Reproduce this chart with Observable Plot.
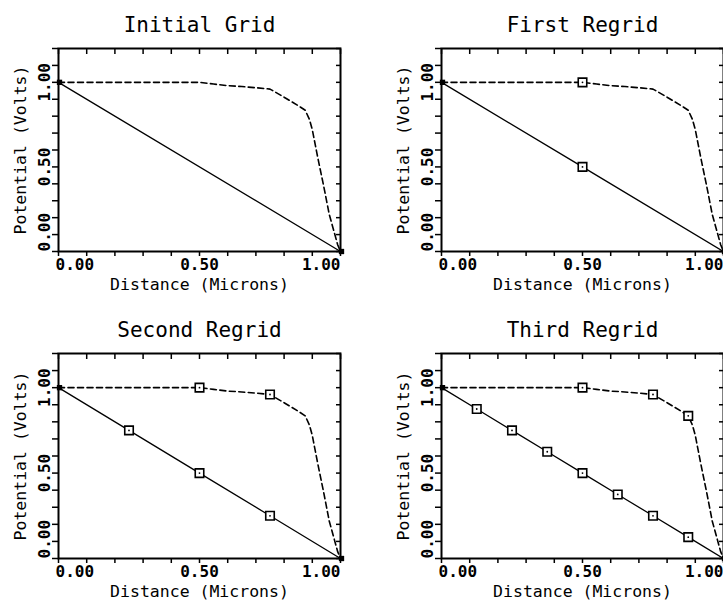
<!DOCTYPE html>
<html>
<head>
<meta charset="utf-8">
<script src="https://cdn.jsdelivr.net/npm/d3@7"></script>
<script src="https://cdn.jsdelivr.net/npm/@observablehq/plot@0.6"></script>
<style>
  html, body { margin: 0; padding: 0; background: #fff; }
  body { width: 723px; height: 608px; overflow: hidden; position: relative; }
  .cell { position: absolute; }
  .cell svg { max-width: none !important; overflow: visible; background: transparent; }
</style>
</head>
<body>
<script>
// ---- data ----
const panelTitles = ["Initial Grid", "First Regrid", "Second Regrid", "Third Regrid"];
const xLabel = "Distance (Microns)";
const yLabel = "Potential (Volts)";

const xTicks = [0, 0.1, 0.2, 0.3, 0.4, 0.5, 0.6, 0.7, 0.8, 0.9, 1.0];
const yTicks = [0, 0.1, 0.2, 0.3, 0.4, 0.5, 0.6, 0.7, 0.8, 0.9, 1.0, 1.1, 1.2];
const xTickLabelValues = [0, 0.5, 1.0];
const xTickLabels = ["0.00", "0.50", "1.00"];
const yTickLabelValues = [0, 0.5, 1.0];
const yTickLabels = ["0.00", "0.50", "1.00"];

// dashed curve (potential profile)
const curveX = [0, 0.5, 0.55, 0.6, 0.65, 0.7, 0.75, 0.8, 0.85, 0.875, 0.89, 0.9, 0.92, 0.94, 0.96, 0.98, 0.99, 1.0];
const curveY = [1.0, 1.0, 0.99, 0.98, 0.975, 0.968, 0.96, 0.912, 0.862, 0.835, 0.78, 0.72, 0.55, 0.39, 0.22, 0.10, 0.04, 0.0];

// grid nodes (solid line) per panel
const gridX = [
  [0, 1.0],
  [0, 0.5, 1.0],
  [0, 0.25, 0.5, 0.75, 1.0],
  [0, 0.125, 0.25, 0.375, 0.5, 0.625, 0.75, 0.875, 1.0]
];
const gridV = [
  [1.0, 0],
  [1.0, 0.5, 0],
  [1.0, 0.75, 0.5, 0.25, 0],
  [1.0, 0.875, 0.75, 0.625, 0.5, 0.375, 0.25, 0.125, 0]
];
// marked nodes on dashed curve per panel
const markX = [[], [0.5], [0.5, 0.75], [0.5, 0.75, 0.875]];
const markV = [[], [1.0], [1.0, 0.96], [1.0, 0.96, 0.835]];

// ---- drawing ----
const FONT = "'DejaVu Sans Mono', 'Liberation Mono', monospace";
const cells = [
  {left: 0,   top: 0,   width: 360, mr: 20, height: 304, mt: 48, mb: 53},
  {left: 383, top: 0,   width: 340, mr: 0,  height: 304, mt: 48, mb: 53},
  {left: 0,   top: 305, width: 360, mr: 20, height: 303, mt: 48, mb: 50},
  {left: 383, top: 305, width: 340, mr: 0,  height: 303, mt: 48, mb: 50}
];
const xAnchors = ["start", "middle", "end"];
const yAnchors = ["start", "middle", "middle"];

function panel(i) {
  const c = cells[i];
  const nodes = gridX[i].map((x, j) => ({x, v: gridV[i][j]}));
  const interior = nodes.slice(1, -1);
  const ends = [nodes[0], nodes[nodes.length - 1]];
  const curve = curveX.map((x, j) => ({x, v: curveY[j]}));
  const marked = markX[i].map((x, j) => ({x, v: markV[i][j]}));
  const open = interior.concat(marked);

  const axisOpts = {tickFormat: () => "", strokeWidth: 1.5, label: null};
  const marks = [
    Plot.axisX(xTicks, {...axisOpts, anchor: "bottom", tickSize: 5}),
    Plot.axisX(xTicks, {...axisOpts, anchor: "top", tickSize: -5}),
    Plot.axisY(yTicks, {...axisOpts, anchor: "left", tickSize: 6}),
    Plot.axisY(yTicks, {...axisOpts, anchor: "right", tickSize: -5}),
    Plot.frame({stroke: "black", strokeWidth: 2}),
    Plot.line(curve, {x: "x", y: "v", stroke: "black", strokeWidth: 1.6, strokeDasharray: "6,3.5"}),
    Plot.line(nodes, {x: "x", y: "v", stroke: "black", strokeWidth: 1.3}),
    Plot.dot(open, {x: "x", y: "v", symbol: "square", r: 4.8, fill: "white", stroke: "black", strokeWidth: 1.6}),
    Plot.dot(open, {x: "x", y: "v", r: 0.9, fill: "black", stroke: null}),
    Plot.dot(ends, {x: "x", y: "v", symbol: "square", r: 3, fill: "black", stroke: null, dx: 1}),
    Plot.text([panelTitles[i]], {frameAnchor: "top", textAnchor: "middle", dy: -31, fontSize: 21, fill: "black"}),
    Plot.text([xLabel], {frameAnchor: "bottom", textAnchor: "middle", dy: 38, fontSize: 16.5, fill: "black"}),
    Plot.text([yLabel], {frameAnchor: "left", textAnchor: "middle", dx: -38, rotate: -90, fontSize: 16.5, fill: "black"})
  ];
  xTickLabelValues.forEach((v, j) => {
    marks.push(Plot.text([j], {x: k => xTickLabelValues[k], text: k => xTickLabels[k],
      frameAnchor: "bottom", dy: 18, dx: j === 0 ? -3 : 0, textAnchor: xAnchors[j],
      fontSize: 16, fontWeight: "bold", fill: "black"}));
  });
  yTickLabelValues.forEach((v, j) => {
    marks.push(Plot.text([j], {y: k => yTickLabelValues[k], text: k => yTickLabels[k],
      frameAnchor: "left", dx: -14, rotate: -90, textAnchor: yAnchors[j],
      fontSize: 16, fontWeight: "bold", fill: "black"}));
  });

  const svg = Plot.plot({
    width: c.width, height: c.height,
    marginLeft: 58, marginRight: c.mr, marginTop: c.mt, marginBottom: c.mb,
    x: {domain: [0, 1], axis: null},
    y: {domain: [0, 1.2], axis: null},
    style: {fontFamily: FONT, background: "transparent", overflow: "visible"},
    marks
  });
  const div = document.createElement("div");
  div.className = "cell";
  div.style.left = c.left + "px";
  div.style.top = c.top + "px";
  div.style.width = c.width + "px";
  div.style.height = c.height + "px";
  div.appendChild(svg);
  document.body.appendChild(div);
}
for (let i = 0; i < 4; i++) panel(i);
</script>
</body>
</html>
